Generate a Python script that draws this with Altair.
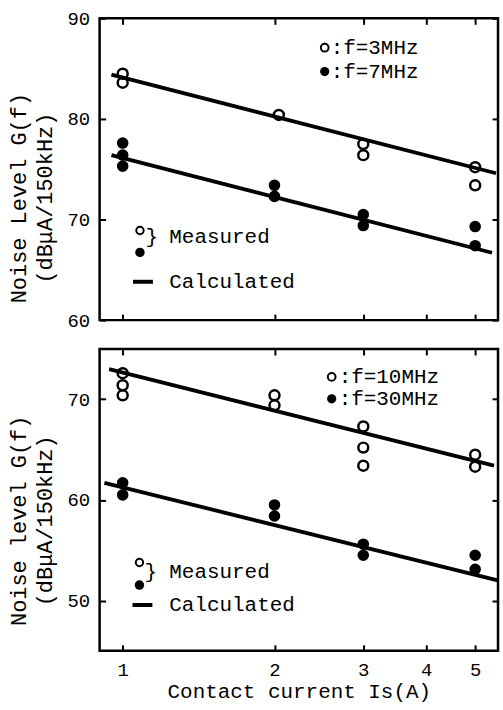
import altair as alt
import pandas as pd

MONO = "Liberation Mono"

# ---- data ----
x_ticks = [1, 2, 3, 4, 5]

# top panel
x_3mhz = [1, 1, 2.04, 3, 3, 5, 5]
y_3mhz = [84.5, 83.6, 80.4, 77.5, 76.4, 75.2, 73.4]
x_7mhz = [1, 1, 1, 2, 2, 3, 3, 5, 5]
y_7mhz = [77.6, 76.4, 75.3, 73.4, 72.3, 70.5, 69.4, 69.3, 67.4]
calc_3mhz_x = [0.95, 5.5]
calc_3mhz_y = [84.4, 74.6]
calc_7mhz_x = [0.95, 5.4]
calc_7mhz_y = [76.4, 66.7]

# bottom panel
x_10mhz = [1, 1, 1, 2, 2, 3, 3, 3, 5, 5]
y_10mhz = [72.6, 71.4, 70.4, 70.4, 69.4, 67.3, 65.2, 63.4, 64.5, 63.3]
x_30mhz = [1, 1, 2, 2, 3, 3, 5, 5]
y_30mhz = [61.7, 60.5, 59.5, 58.4, 55.6, 54.5, 54.5, 53.1]
calc_10mhz_x = [0.94, 5.45]
calc_10mhz_y = [73.0, 63.4]
calc_30mhz_x = [0.92, 5.54]
calc_30mhz_y = [61.7, 52.0]

top_yticks = [60, 70, 80, 90]
bot_yticks = [50, 60, 70]

W, H = 400, 303
ONE = alt.Data(values=[{}])


def txt(s, x, y, size=21):
    return alt.Chart(ONE).mark_text(
        text=s, align="left", baseline="middle", font=MONO, fontSize=size, color="black"
    ).encode(x=alt.value(x), y=alt.value(y))


def sym(x, y, filled, size):
    return alt.Chart(ONE).mark_point(
        shape="circle", filled=filled, size=size, strokeWidth=2, color="black", opacity=1
    ).encode(x=alt.value(x), y=alt.value(y))


def panel(ox, oy, fx, fy, l1x, l1y, l2x, l2y, ydom, yvals, ytitle, titleY,
          bottom, leg1, leg2, legpos, mpos):
    xs = alt.Scale(type="log", domain=[0.9, 5.55], nice=False)
    ys = alt.Scale(domain=ydom, nice=False, zero=False)
    common = dict(tickSize=6, offset=-6, domain=False, grid=False,
                  tickColor="black", tickWidth=2)
    xb_kw = dict(orient="bottom", values=x_ticks, labels=bottom, format="d",
                 labelPadding=10, labelFont=MONO, labelFontSize=19, labelColor="black",
                 **common)
    if bottom:
        xb_kw.update(title="Contact current Is(A)", titleFont=MONO, titleFontSize=21,
                     titleFontWeight="normal", titleColor="black", titlePadding=1)
    else:
        xb_kw.update(title=None)
    xb = alt.Axis(**xb_kw)
    yl = alt.Axis(orient="left", values=yvals, labelPadding=10, labelFont=MONO,
                  labelFontSize=19, labelColor="black", title=ytitle, titleFont=MONO,
                  titleFontSize=22, titleFontWeight="normal", titleColor="black",
                  titleLineHeight=27, titlePadding=10, titleY=titleY, **common)
    xt = alt.Axis(orient="top", values=x_ticks, labels=False, title=None, **common)
    yr = alt.Axis(orient="right", values=yvals, labels=False, title=None, **common)

    pts_o = pd.DataFrame({"x": ox, "y": oy})
    pts_f = pd.DataFrame({"x": fx, "y": fy})
    lines = pd.DataFrame({"x": l1x + l2x, "y": l1y + l2y,
                          "s": ["a"] * len(l1x) + ["b"] * len(l2x)})

    line_layer = alt.Chart(lines).mark_line(color="black", strokeWidth=3.8).encode(
        x=alt.X("x:Q", scale=xs, axis=xb),
        y=alt.Y("y:Q", scale=ys, axis=yl),
        detail="s:N",
    )
    open_layer = alt.Chart(pts_o).mark_point(
        shape="circle", filled=False, size=100, strokeWidth=2.5, color="black", opacity=1
    ).encode(
        x=alt.X("x:Q", scale=xs, axis=xt),
        y=alt.Y("y:Q", scale=ys, axis=yr),
    )
    fill_layer = alt.Chart(pts_f).mark_point(
        shape="circle", filled=True, size=135, color="black", opacity=1
    ).encode(
        x=alt.X("x:Q", scale=xs, axis=None),
        y=alt.Y("y:Q", scale=ys, axis=None),
    )
    (sx, sy1, sy2, tx) = legpos
    (mx, my1, my2, bx, by, tmx, cy) = mpos
    ann = [
        sym(sx, sy1, False, 60), txt(leg1, tx, sy1, 21),
        sym(sx, sy2, True, 85), txt(leg2, tx, sy2, 21),
        sym(mx, my1, False, 55), sym(mx, my2, True, 90),
        txt("}", bx, by, 21), txt("Measured", tmx, by, 21),
        alt.Chart(ONE).mark_rule(color="black", strokeWidth=4).encode(
            x=alt.value(mx - 7), x2=alt.value(mx + 13), y=alt.value(cy)),
        txt("Calculated", tmx, cy, 21),
    ]
    return alt.layer(line_layer, open_layer, fill_layer, *ann).resolve_axis(
        x="independent", y="independent"
    ).properties(width=W, height=H)


top = panel(x_3mhz, y_3mhz, x_7mhz, y_7mhz, calc_3mhz_x, calc_3mhz_y,
            calc_7mhz_x, calc_7mhz_y, [60, 90], top_yticks,
            ["Noise Level G(f)", "(dBμA/150kHz)"], 180, False,
            ":f=3MHz", ":f=7MHz", (226, 29.5, 53.5, 232),
            (40.5, 213, 235, 46, 219.5, 70, 264.5))
bot = panel(x_10mhz, y_10mhz, x_30mhz, y_30mhz, calc_10mhz_x, calc_10mhz_y,
            calc_30mhz_x, calc_30mhz_y, [45, 75], bot_yticks,
            ["Noise level G(f)", "(dBμA/150kHz)"], 172, True,
            ":f=10MHz", ":f=30MHz", (233, 28, 50, 240),
            (40, 214.3, 237, 45, 224.3, 70, 257))

chart = alt.vconcat(top, bot, spacing=14).properties(
    padding={"left": 5, "top": 6, "right": -4, "bottom": 0},
    background="white",
).configure_view(stroke="black", strokeWidth=2.5)

chart.save("out.html", embed_options={"renderer": "svg", "actions": False})
